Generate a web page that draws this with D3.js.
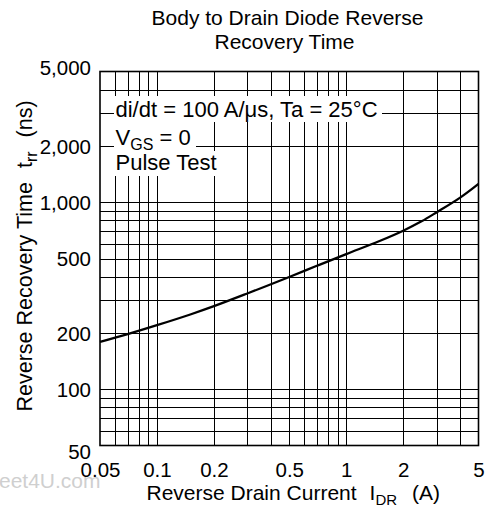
<!DOCTYPE html>
<html>
<head>
<meta charset="utf-8">
<script src="https://cdn.jsdelivr.net/npm/d3@7"></script>
<style>
  html, body { margin: 0; padding: 0; background: #fff; }
  svg { display: block; font-family: "Liberation Sans", Arial, sans-serif; }
</style>
</head>
<body>
<svg id="chart" width="489" height="512"></svg>
<script>
// ---- data ----
const titleLines = ["Body to Drain Diode Reverse", "Recovery Time"];
const xTickValues = [0.05, 0.1, 0.2, 0.5, 1, 2, 5];
const xTickLabels = ["0.05", "0.1", "0.2", "0.5", "1", "2", "5"];
const yTickValues = [50, 100, 200, 500, 1000, 2000, 5000];
const yTickLabels = ["50", "100", "200", "500", "1,000", "2,000", "5,000"];
const xGridValues = [0.06, 0.07, 0.08, 0.09, 0.1, 0.2, 0.3, 0.4, 0.5, 0.6, 0.7, 0.8, 0.9, 1, 2, 3, 4];
const yGridValues = [60, 70, 80, 90, 100, 200, 300, 400, 500, 600, 700, 800, 900, 1000, 2000, 3000, 4000];
const currentA = [0.05, 0.07, 0.1, 0.15, 0.2, 0.3, 0.5, 0.7, 1, 1.5, 2, 2.5, 3, 4, 5];
const trrNs    = [179, 197, 220, 251, 278, 325, 398, 457, 528, 620, 704, 790, 882, 1058, 1253];

// ---- layout ----
const svg = d3.select("#chart");
const L = 100, R = 478.5, T = 71.5, B = 445.5;
const x = d3.scaleLog().domain([0.05, 5]).range([L, R]);
const y = d3.scaleLog().domain([50, 5000]).range([B, T]);
const FS = 21;

// grid
const gx = svg.append("g").attr("transform", `translate(0,${B})`)
  .call(d3.axisBottom(x).tickValues(xGridValues).tickSize(-(B - T)).tickFormat(""));
gx.select(".domain").remove();
gx.selectAll("line").attr("stroke", "#000").attr("stroke-width", 1).attr("shape-rendering", "crispEdges");

const gy = svg.append("g").attr("transform", `translate(${L},0)`)
  .call(d3.axisLeft(y).tickValues(yGridValues).tickSize(-(R - L)).tickFormat(""));
gy.select(".domain").remove();
gy.selectAll("line").attr("stroke", "#000").attr("stroke-width", 1).attr("shape-rendering", "crispEdges");

// legend background boxes (cover grid)
const boxes = [
  [114, 96, 382, 122],
  [114, 122, 213, 136],
  [114, 122, 196, 151],
  [114, 151, 223, 176]
];
svg.append("g").selectAll("rect").data(boxes).join("rect")
  .attr("x", d => d[0]).attr("y", d => d[1])
  .attr("width", d => d[2] - d[0]).attr("height", d => d[3] - d[1])
  .attr("fill", "#fff");

// legend text
const leg = svg.append("g").attr("font-size", 22).attr("fill", "#000");
leg.append("text").attr("x", 115.5).attr("y", 117).text("di/dt = 100 A/\u03bcs, Ta = 25\u00b0C");
const l2 = leg.append("text").attr("x", 115.5).attr("y", 145);
l2.append("tspan").text("V");
l2.append("tspan").attr("font-size", 16).attr("dy", 5).text("GS");
l2.append("tspan").attr("dy", -5).text(" = 0");
leg.append("text").attr("x", 115.5).attr("y", 170).text("Pulse Test");

// curve
const line = d3.line()
  .x((d, i) => x(currentA[i]))
  .y(d => y(d))
  .curve(d3.curveCatmullRom.alpha(0.5));
svg.append("path").datum(trrNs)
  .attr("d", line)
  .attr("fill", "none").attr("stroke", "#000").attr("stroke-width", 2.3);

// frame
svg.append("rect").attr("x", L).attr("y", T).attr("width", R - L).attr("height", B - T)
  .attr("fill", "none").attr("stroke", "#000").attr("stroke-width", 1.6);

// tick labels via axes
const ax = svg.append("g").attr("transform", `translate(0,${B})`)
  .call(d3.axisBottom(x).tickValues(xTickValues).tickSize(0)
    .tickFormat((d, i) => xTickLabels[i]));
ax.select(".domain").remove();
ax.selectAll("text").attr("font-size", 20.5).attr("font-family", "Liberation Sans, Arial, sans-serif")
  .attr("fill", "#000").attr("y", 31).attr("dy", 0);

const ay = svg.append("g").attr("transform", `translate(${L},0)`)
  .call(d3.axisLeft(y).tickValues(yTickValues).tickSize(0)
    .tickFormat((d, i) => yTickLabels[i]));
ay.select(".domain").remove();
ay.selectAll("text").attr("font-size", 20.5).attr("font-family", "Liberation Sans, Arial, sans-serif")
  .attr("fill", "#000").attr("x", -9)
  .attr("dy", d => d === 50 ? "0.62em" : d === 5000 ? "0.15em" : "0.35em");

// title
svg.append("g").attr("font-size", FS).attr("text-anchor", "middle").selectAll("text")
  .data(titleLines).join("text")
  .attr("x", (d, i) => i === 0 ? 287.5 : 284.5)
  .attr("y", (d, i) => 24.5 + i * 24.5)
  .text(d => d);

// x axis title
const xt = svg.append("text").attr("x", 146.5).attr("y", 500).attr("font-size", FS);
xt.append("tspan").text("Reverse Drain Current");
xt.append("tspan").attr("dx", 13).text("I");
xt.append("tspan").attr("font-size", 15).attr("dy", 5).text("DR");
xt.append("tspan").attr("dy", -5).attr("dx", 15).text("(A)");

// y axis title
const yt = svg.append("text").attr("transform", "translate(32,411.5) rotate(-90)").attr("font-size", 21.5);
yt.append("tspan").text("Reverse Recovery Time");
yt.append("tspan").attr("dx", 14).text("t");
yt.append("tspan").attr("font-size", 16).attr("dy", 5).text("rr");
yt.append("tspan").attr("dy", -5).attr("dx", 14).text("(ns)");

// watermark
svg.append("text").attr("x", -1).attr("y", 488).attr("font-size", FS)
  .attr("fill", "#cfcfcf").text("eet4U.com");
</script>
</body>
</html>
